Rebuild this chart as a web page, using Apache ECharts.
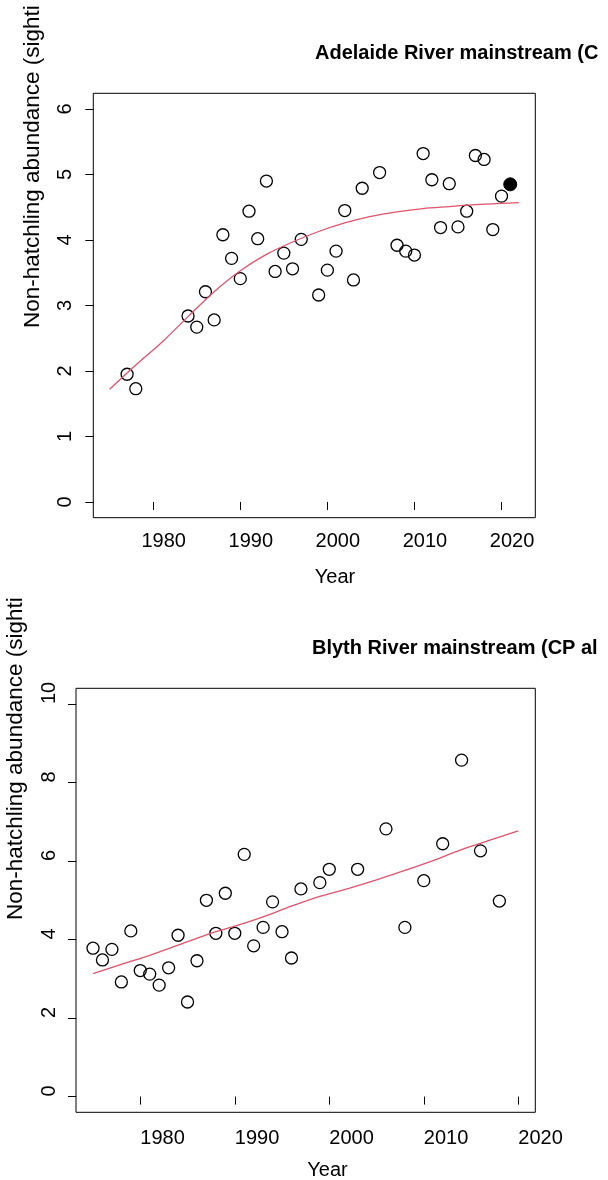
<!DOCTYPE html>
<html>
<head>
<meta charset="utf-8">
<script src="https://cdn.jsdelivr.net/npm/echarts@6/dist/echarts.min.js"></script>
<style>
  html, body { margin: 0; padding: 0; background: #fff; }
  #chart { width: 608px; height: 1180px; }
</style>
</head>
<body>
<div id="chart"></div>
<script>
// Adelaide River mainstream: yearly survey estimates
const adelaideYears = [1977, 1978, 1984, 1985, 1986, 1987, 1988, 1989, 1990, 1991, 1992, 1993,
  1994, 1995, 1996, 1997, 1999, 2000, 2001, 2002, 2003, 2004, 2006, 2008, 2009, 2010,
  2011, 2012, 2013, 2014, 2015, 2016, 2017, 2018, 2019, 2020];
const adelaideValues = [1.95, 1.73, 2.84, 2.67, 3.21, 2.78, 4.08, 3.72, 3.41, 4.44, 4.02, 4.90,
  3.52, 3.80, 3.56, 4.01, 3.16, 3.54, 3.83, 4.45, 3.39, 4.79, 5.03, 3.92, 3.83, 3.77,
  5.32, 4.92, 4.19, 4.86, 4.20, 4.44, 5.29, 5.23, 4.16, 4.67];
// most recent survey, drawn as a solid dot
const adelaideLatestYear = [2021];
const adelaideLatestValue = [4.85];
// fitted trend
const adelaideTrendYears = [1975, 1978, 1981, 1984, 1987, 1990, 1993, 1996, 1999, 2002, 2005,
  2008, 2011, 2014, 2017, 2020, 2022];
const adelaideTrend = [1.72, 2.09, 2.44, 2.83, 3.21, 3.53, 3.78, 3.97, 4.13, 4.26, 4.36,
  4.43, 4.48, 4.51, 4.54, 4.56, 4.57];

// Blyth River mainstream: yearly survey estimates
const blythYears = [1975, 1976, 1977, 1978, 1979, 1980, 1981, 1982, 1983, 1984, 1985, 1986,
  1987, 1988, 1989, 1990, 1991, 1992, 1993, 1994, 1995, 1996, 1997, 1999, 2000, 2003,
  2006, 2008, 2010, 2012, 2014, 2016, 2018];
const blythValues = [3.78, 3.48, 3.75, 2.92, 4.22, 3.21, 3.12, 2.84, 3.28, 4.11, 2.41, 3.46,
  5.00, 4.16, 5.18, 4.16, 6.17, 3.84, 4.31, 4.96, 4.20, 3.53, 5.29, 5.45, 5.79, 5.79,
  6.82, 4.31, 5.50, 6.44, 8.57, 6.26, 4.98];
const blythTrendYears = [1975, 1978, 1981, 1984, 1987, 1990, 1993, 1996, 1999, 2002, 2005,
  2008, 2011, 2014, 2017, 2020];
const blythTrend = [3.13, 3.37, 3.60, 3.86, 4.12, 4.34, 4.58, 4.85, 5.10, 5.30, 5.52,
  5.76, 6.01, 6.29, 6.53, 6.77];

// tick labels
const yearTicks = [1980, 1990, 2000, 2010, 2020];
const adelaideYTicks = [0, 1, 2, 3, 4, 5, 6];
const blythYTicks = [0, 2, 4, 6, 8, 10];

const adelaideTitle = 'Adelaide River mainstream (C';
const blythTitle = 'Blyth River mainstream (CP al';
const yName = 'Non-hatchling abundance (sighti';
const xName = 'Year';

const FONT = '"Liberation Sans", Arial, Helvetica, sans-serif';
const zip = (xs, ys) => xs.map((x, i) => [x, ys[i]]);
// base-graphics style axis range: data limits widened by 4% on each side
const widen = (lo, hi) => [lo - 0.04 * (hi - lo), hi + 0.04 * (hi - lo)];

const topX = widen(1975, 2022);
const botX = widen(1975, 2020);
const topY = widen(0, 6);
const botY = widen(0, 10);

const tickStyle = { show: true, inside: false, length: 8, lineStyle: { color: '#000', width: 1 } };
const labelBase = { color: '#000', fontSize: 20, fontFamily: FONT, formatter: (v) => String(v) };

function xAxis(gridIndex, range, label) {
  return {
    type: 'value', gridIndex, min: range[0], max: range[1],
    axisLine: { show: false },
    splitLine: { show: false },
    axisTick: Object.assign({ customValues: yearTicks }, tickStyle),
    axisLabel: Object.assign({ customValues: yearTicks, showMinLabel: true, showMaxLabel: true }, labelBase, label)
  };
}
function yAxis(gridIndex, range, ticks, label) {
  return {
    type: 'value', gridIndex, min: range[0], max: range[1],
    axisLine: { show: false },
    splitLine: { show: false },
    axisTick: Object.assign({ customValues: ticks }, tickStyle),
    axisLabel: Object.assign({ customValues: ticks, rotate: 90, showMinLabel: true, showMaxLabel: true }, labelBase, label)
  };
}

const openCircle = {
  type: 'scatter', symbol: 'circle', symbolSize: 12,
  itemStyle: { color: 'rgba(0,0,0,0)', borderColor: '#000', borderWidth: 1.3, opacity: 1 },
  silent: true, z: 3
};
const trendLine = {
  type: 'line', showSymbol: false, smooth: 0.3, silent: true, z: 4,
  lineStyle: { color: '#DF536B', width: 1.3 }
};

const chart = echarts.init(document.getElementById('chart'), null, { renderer: 'canvas' });
chart.setOption({
  animation: false,
  backgroundColor: '#fff',
  grid: [
    { left: 93.3, right: 72.7, top: 93.3, height: 424.4, show: true, borderColor: '#000', borderWidth: 1, backgroundColor: 'transparent' },
    { left: 76, right: 72.7, top: 688.3, height: 424, show: true, borderColor: '#000', borderWidth: 1, backgroundColor: 'transparent' }
  ],
  xAxis: [
    xAxis(0, topX, { margin: 14, align: 'center', padding: [0, 0, 0, 21] }),
    xAxis(1, botX, { margin: 16, align: 'left' })
  ],
  yAxis: [
    yAxis(0, topY, adelaideYTicks, { margin: 18 }),
    yAxis(1, botY, blythYTicks, { margin: 17, align: 'left' })
  ],
  series: [
    Object.assign({}, openCircle, { xAxisIndex: 0, yAxisIndex: 0, data: zip(adelaideYears, adelaideValues) }),
    Object.assign({}, openCircle, {
      xAxisIndex: 0, yAxisIndex: 0, symbolSize: 13,
      itemStyle: { color: '#000', borderColor: '#000', borderWidth: 1, opacity: 1 },
      data: zip(adelaideLatestYear, adelaideLatestValue)
    }),
    Object.assign({}, trendLine, { xAxisIndex: 0, yAxisIndex: 0, data: zip(adelaideTrendYears, adelaideTrend) }),
    Object.assign({}, openCircle, { xAxisIndex: 1, yAxisIndex: 1, data: zip(blythYears, blythValues) }),
    Object.assign({}, trendLine, { xAxisIndex: 1, yAxisIndex: 1, data: zip(blythTrendYears, blythTrend) })
  ],
  graphic: [
    { type: 'text', x: 315, y: 53, silent: true,
      style: { text: adelaideTitle, font: 'bold 20px ' + FONT, fill: '#000', textAlign: 'left', textVerticalAlign: 'middle' } },
    { type: 'text', x: 312, y: 648, silent: true,
      style: { text: blythTitle, font: 'bold 20px ' + FONT, fill: '#000', textAlign: 'left', textVerticalAlign: 'middle' } },
    { type: 'text', x: 335, y: 577, silent: true,
      style: { text: xName, font: '20px ' + FONT, fill: '#000', textAlign: 'center', textVerticalAlign: 'middle' } },
    { type: 'text', x: 327.5, y: 1170, silent: true,
      style: { text: xName, font: '20px ' + FONT, fill: '#000', textAlign: 'center', textVerticalAlign: 'middle' } },
    { type: 'text', x: 33, y: 328, rotation: Math.PI / 2, silent: true,
      style: { text: yName, font: '22.5px ' + FONT, fill: '#000', textAlign: 'left', textVerticalAlign: 'middle' } },
    { type: 'text', x: 16, y: 920, rotation: Math.PI / 2, silent: true,
      style: { text: yName, font: '22.5px ' + FONT, fill: '#000', textAlign: 'left', textVerticalAlign: 'middle' } }
  ]
});
</script>
</body>
</html>
